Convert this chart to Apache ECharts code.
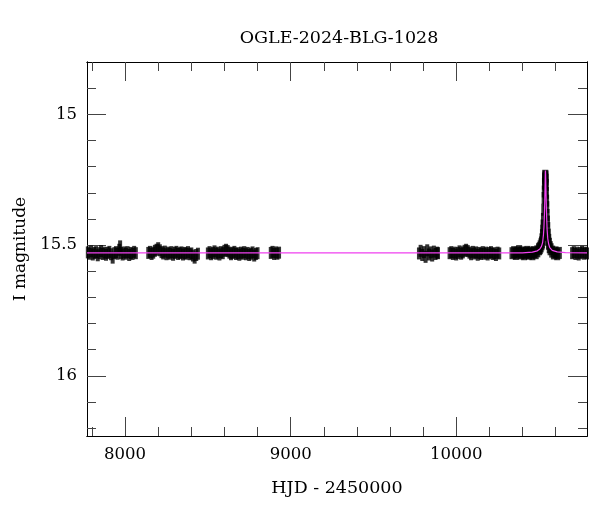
<!DOCTYPE html>
<html>
<head>
<meta charset="utf-8">
<script src="https://cdn.jsdelivr.net/npm/echarts@6/dist/echarts.min.js"></script>
<style>
html,body{margin:0;padding:0;background:#fff;}
#chart{width:600px;height:512px;}
</style>
</head>
<body>
<div id="chart"></div>
<script>
// ---- Data (HJD - 2450000, I magnitude) ----
const season1 = [[7775,15.528],[7785,15.533],[7795,15.524],[7805,15.536],[7815,15.530],[7825,15.527],[7835,15.539],[7845,15.531],[7855,15.523],[7865,15.534],[7875,15.529],[7885,15.537],[7895,15.530],[7905,15.526],[7915,15.535],[7925,15.548],[7935,15.531],[7945,15.527],[7955,15.533],[7965,15.518],[7970,15.505],[7975,15.530],[7985,15.536],[7995,15.528],[8005,15.533],[8015,15.527],[8025,15.538],[8035,15.530],[8045,15.534],[8055,15.526],[8065,15.531]];
const season2 = [[8140,15.530],[8150,15.526],[8160,15.534],[8170,15.529],[8180,15.522],[8190,15.518],[8200,15.512],[8210,15.520],[8220,15.527],[8230,15.532],[8240,15.525],[8250,15.535],[8260,15.529],[8270,15.533],[8280,15.527],[8290,15.537],[8300,15.530],[8310,15.526],[8320,15.534],[8330,15.531],[8340,15.528],[8350,15.536],[8360,15.530],[8370,15.533],[8380,15.527],[8390,15.535],[8400,15.532],[8410,15.540],[8420,15.548],[8430,15.538],[8440,15.533]];
const season3 = [[8500,15.532],[8510,15.527],[8520,15.535],[8530,15.530],[8540,15.524],[8550,15.533],[8560,15.529],[8570,15.536],[8580,15.527],[8590,15.531],[8600,15.522],[8610,15.518],[8620,15.523],[8630,15.529],[8640,15.535],[8650,15.530],[8660,15.526],[8670,15.534],[8680,15.531],[8690,15.537],[8700,15.529],[8710,15.533],[8720,15.527],[8730,15.535],[8740,15.530],[8750,15.538],[8760,15.533],[8770,15.528],[8780,15.540],[8790,15.534],[8800,15.531]];
const season4 = [[8880,15.530],[8890,15.526],[8900,15.534],[8910,15.528],[8920,15.533],[8930,15.529]];
const season5 = [[9775,15.532],[9785,15.522],[9795,15.538],[9805,15.527],[9815,15.545],[9825,15.520],[9835,15.536],[9845,15.528],[9855,15.540],[9865,15.525],[9875,15.534],[9885,15.529],[9890,15.531]];
const season6 = [[9960,15.531],[9970,15.527],[9980,15.534],[9990,15.529],[10000,15.536],[10010,15.530],[10020,15.524],[10030,15.533],[10040,15.528],[10050,15.522],[10060,15.518],[10070,15.523],[10080,15.529],[10090,15.535],[10100,15.526],[10110,15.532],[10120,15.528],[10130,15.537],[10140,15.530],[10150,15.534],[10160,15.527],[10170,15.533],[10180,15.529],[10190,15.536],[10200,15.530],[10210,15.527],[10220,15.534],[10230,15.531],[10240,15.538],[10250,15.529],[10260,15.532]];
const season7 = [[10340,15.531],[10350,15.527],[10360,15.534],[10370,15.529],[10380,15.523],[10390,15.532],[10400,15.528],[10410,15.535],[10420,15.530],[10430,15.526],[10440,15.533],[10450,15.529],[10460,15.535],[10470,15.527],[10480,15.531],[10490,15.524],[10500,15.516],[10505,15.512],[10510,15.505],[10515,15.497],[10518,15.490],[10521,15.478],[10524,15.462],[10526,15.445],[10528,15.425],[10530,15.400],[10532,15.365],[10534,15.320],[10535,15.295],[10536,15.265],[10537,15.245],[10538,15.235],[10539,15.238],[10540,15.250],[10541,15.270],[10542,15.300],[10543,15.330],[10544,15.355],[10546,15.385],[10548,15.410],[10550,15.435],[10553,15.460],[10556,15.480],[10560,15.495],[10565,15.508],[10570,15.516],[10580,15.525],[10590,15.532],[10600,15.528],[10610,15.535],[10620,15.530]];
const season8 = [[10700,15.531],[10710,15.527],[10720,15.534],[10730,15.529],[10740,15.536],[10750,15.530],[10760,15.526],[10770,15.533],[10780,15.529],[10790,15.532]];
const modelCurve = [[7770,15.530],[10400,15.530],[10460,15.527],[10490,15.522],[10505,15.515],[10515,15.505],[10522,15.490],[10527,15.460],[10530,15.430],[10533,15.380],[10535,15.330],[10537,15.265],[10538,15.225],[10539,15.215],[10540,15.228],[10542,15.285],[10544,15.340],[10546,15.390],[10549,15.440],[10553,15.475],[10558,15.495],[10565,15.510],[10580,15.520],[10610,15.526],[10660,15.529],[10790,15.530]];

const xMajorTicks = [8000, 9000, 10000];
const xMinorTicks = [7800, 8000, 8200, 8400, 8600, 8800, 9000, 9200, 9400, 9600, 9800, 10000, 10200, 10400, 10600];
const yMajorTicks = [15, 15.5, 16];
const yMinorTicks = [14.9, 15.0, 15.1, 15.2, 15.3, 15.4, 15.5, 15.6, 15.7, 15.8, 15.9, 16.0, 16.1, 16.2];

const titleText = 'OGLE-2024-BLG-1028';
const xName = 'HJD - 2450000';
const yName = 'I magnitude';

const X_MIN = 7770, X_MAX = 10790;
const Y_MIN = 14.80, Y_MAX = 16.23;

const FONT = 'DejaVu Serif';
const tickColor = '#444';

function xAxisDef(pos, ticks, len, showLabel, name) {
  const ax = {
    type: 'value', position: pos, min: X_MIN, max: X_MAX,
    axisLine: { show: true, onZero: false, lineStyle: { color: '#000', width: 1 } },
    axisTick: { show: true, inside: true, length: len, customValues: ticks, lineStyle: { color: tickColor, width: 1 } },
    axisLabel: { show: showLabel, customValues: ticks, margin: 10, color: '#000', fontFamily: FONT, fontSize: 16.5,
      formatter: v => String(v) },
    splitLine: { show: false }
  };
  if (name) {
    ax.name = name; ax.nameLocation = 'middle'; ax.nameGap = 43;
    ax.nameTextStyle = { color: '#000', fontFamily: FONT, fontSize: 17.5 };
  }
  return ax;
}
function yAxisDef(pos, ticks, len, showLabel, name) {
  const ax = {
    type: 'value', position: pos, min: Y_MIN, max: Y_MAX, inverse: true,
    axisLine: { show: true, onZero: false, lineStyle: { color: '#000', width: 1 } },
    axisTick: { show: true, inside: true, length: len, customValues: ticks, lineStyle: { color: tickColor, width: 1 } },
    axisLabel: { show: showLabel, customValues: ticks, margin: 10, color: '#000', fontFamily: FONT, fontSize: 16.5,
      formatter: v => String(v) },
    splitLine: { show: false }
  };
  if (name) {
    ax.name = name; ax.nameLocation = 'middle'; ax.nameGap = 56;
    ax.nameTextStyle = { color: '#000', fontFamily: FONT, fontSize: 17 };
  }
  return ax;
}

const seasons = [season1, season2, season3, season4, season5, season6, season7, season8];
const pointSeries = seasons.map((s, i) => ({
  type: 'scatter', xAxisIndex: 0, yAxisIndex: 0, data: s,
  symbol: 'rect', symbolSize: i === 6 ? [6, 12] : [4, 12],
  itemStyle: { color: '#000' }, silent: true, z: 2
}));

const chart = echarts.init(document.getElementById('chart'), null, { renderer: 'canvas' });
chart.setOption({
  animation: false,
  backgroundColor: '#fff',
  title: {
    text: titleText, left: 334, top: 24, textAlign: 'center',
    textStyle: { fontFamily: FONT, fontSize: 17.5, fontWeight: 'normal', color: '#000' }
  },
  grid: { left: 87, right: 13, top: 62, bottom: 76, containLabel: false },
  xAxis: [
    xAxisDef('bottom', xMajorTicks, 19, true, xName),
    xAxisDef('bottom', xMinorTicks, 9, false),
    xAxisDef('top', xMajorTicks, 19, false),
    xAxisDef('top', xMinorTicks, 9, false)
  ],
  yAxis: [
    yAxisDef('left', yMajorTicks, 19, true, yName),
    yAxisDef('left', yMinorTicks, 9, false),
    yAxisDef('right', yMajorTicks, 19, false),
    yAxisDef('right', yMinorTicks, 9, false)
  ],
  series: pointSeries.concat([{
    type: 'line', xAxisIndex: 0, yAxisIndex: 0, data: modelCurve,
    showSymbol: false, symbol: 'none', smooth: false,
    lineStyle: { color: '#f040f0', width: 1.2 }, silent: true, z: 5
  }])
});
</script>
</body>
</html>
